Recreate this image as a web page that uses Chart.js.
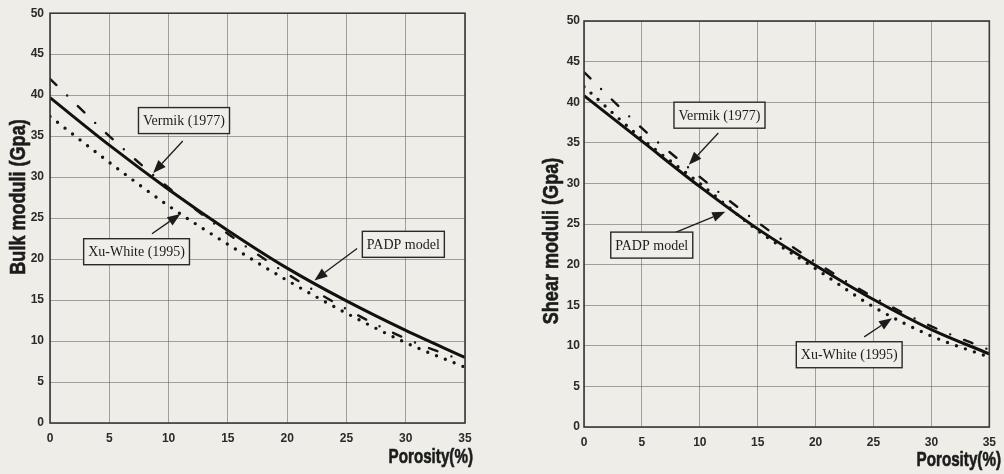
<!DOCTYPE html>
<html>
<head>
<meta charset="utf-8">
<script src="https://cdn.jsdelivr.net/npm/chart.js@4.4.1/dist/chart.umd.min.js"></script>
<style>
  html, body { margin: 0; padding: 0; background: #eeede7; }
  #wrap { position: relative; width: 1004px; height: 474px; overflow: hidden; }
  .panel { position: absolute; top: 0; height: 474px; }
  #pBulk { left: 0; width: 500px; }
  #pShear { left: 500px; width: 504px; }
</style>
</head>
<body>
<div id="wrap">
  <div class="panel" id="pBulk"><canvas id="cBulk"></canvas></div>
  <div class="panel" id="pShear"><canvas id="cShear"></canvas></div>
</div>
<script>
// Porosity (%) sample points shared by every curve
const porosity = [0, 5, 10, 15, 20, 25, 30, 35];
const xTickValues = [0, 5, 10, 15, 20, 25, 30, 35];
const yTickValues = [0, 5, 10, 15, 20, 25, 30, 35, 40, 45, 50];

// Bulk moduli (GPa)
const bulkPADP    = [39.7, 33.9, 28.5, 23.5, 18.9, 14.9, 11.3, 8.0];
const bulkVermik  = [42.0, 35.0, 28.7, 23.1, 18.2, 13.9, 10.3, 7.5];
const bulkXuWhite = [37.4, 31.8, 26.5, 21.8, 17.4, 13.4, 9.8, 6.8];

// Shear moduli (GPa)
const shearPADP    = [40.8, 35.2, 29.6, 24.4, 19.9, 15.7, 12.0, 9.0];
const shearVermik  = [43.7, 36.8, 30.8, 25.2, 20.3, 16.0, 12.4, 9.5];
const shearXuWhite = [41.9, 35.5, 30.0, 24.2, 19.5, 14.8, 11.2, 8.6];

const seriesNames = ['PADP model', 'Vermik (1977)', 'Xu-White (1995)'];

const TICK_FONT = { family: "'Liberation Sans', Arial, sans-serif", size: 12, weight: 'bold' };
const TITLE_FAMILY = "'Liberation Sans', Arial, sans-serif";
const NOTE_FONT = "14px 'Liberation Serif', 'Times New Roman', serif";
const INK = '#1c1c1c';

function points(vals) {
  return porosity.map((p, i) => ({ x: p, y: vals[i] }));
}

// Heavy, horizontally condensed title text
function condensedText(ctx, text, x, y, size, squeeze, align, rotate) {
  ctx.save();
  ctx.translate(x, y);
  if (rotate) ctx.rotate(-Math.PI / 2);
  ctx.scale(squeeze, 1);
  ctx.font = 'bold ' + size + 'px ' + TITLE_FAMILY;
  ctx.textAlign = align;
  ctx.textBaseline = 'middle';
  ctx.fillStyle = INK;
  ctx.fillText(text, 0, 0);
  ctx.lineWidth = 0.6;
  ctx.strokeStyle = INK;
  ctx.strokeText(text, 0, 0);
  ctx.restore();
}

// Frame, axis titles and the labelled arrows pointing at each curve
function makeDecor(cfg) {
  return {
    id: 'decor',
    afterDraw(chart) {
      const { ctx, chartArea: a, scales: { x, y } } = chart;
      ctx.save();
      ctx.strokeStyle = '#3a3a3a';
      ctx.lineWidth = 1.6;
      ctx.strokeRect(a.left, a.top, a.right - a.left, a.bottom - a.top);

      condensedText(ctx, cfg.yTitle.text, cfg.yTitle.x, cfg.yTitle.y, 22, 0.82, 'center', true);
      condensedText(ctx, cfg.xTitle.text, cfg.xTitle.x, cfg.xTitle.y, 20, 0.76, 'right', false);

      cfg.notes.forEach(n => {
        const tx = x.getPixelForValue(n.tail[0]), ty = y.getPixelForValue(n.tail[1]);
        const hx = x.getPixelForValue(n.head[0]), hy = y.getPixelForValue(n.head[1]);
        const ang = Math.atan2(hy - ty, hx - tx);
        const L = 13, W = 5;
        const bx = hx - L * Math.cos(ang), by = hy - L * Math.sin(ang);
        ctx.strokeStyle = INK;
        ctx.lineWidth = 1.3;
        ctx.beginPath();
        ctx.moveTo(tx, ty);
        ctx.lineTo(bx, by);
        ctx.stroke();
        ctx.fillStyle = INK;
        ctx.beginPath();
        ctx.moveTo(hx, hy);
        ctx.lineTo(bx + W * Math.sin(ang), by - W * Math.cos(ang));
        ctx.lineTo(bx - W * Math.sin(ang), by + W * Math.cos(ang));
        ctx.closePath();
        ctx.fill();

        const cx = x.getPixelForValue(n.at[0]), cy = y.getPixelForValue(n.at[1]);
        ctx.font = NOTE_FONT;
        const w = ctx.measureText(n.text).width + 9, h = 26;
        ctx.fillStyle = '#efeee8';
        ctx.fillRect(cx - w / 2, cy - h / 2, w, h);
        ctx.strokeStyle = '#2a2a2a';
        ctx.lineWidth = 1.4;
        ctx.strokeRect(cx - w / 2, cy - h / 2, w, h);
        ctx.fillStyle = INK;
        ctx.textAlign = 'center';
        ctx.textBaseline = 'middle';
        ctx.fillText(n.text, cx, cy + 1);
      });
      ctx.restore();
    }
  };
}

function makeChart(canvasId, series, frame, decor) {
  const grid = { color: 'rgba(95,95,95,0.55)', lineWidth: 1, drawTicks: false };
  return new Chart(document.getElementById(canvasId), {
    type: 'line',
    data: {
      datasets: [
        { label: seriesNames[2], data: points(series[2]), borderColor: '#151515', borderWidth: 3.4,
          borderDash: [0, 9.5], borderCapStyle: 'round' },
        { label: seriesNames[1], data: points(series[1]), borderColor: '#151515', borderWidth: 2.4,
          borderDash: [9, 15, 0, 15], borderCapStyle: 'round' },
        { label: seriesNames[0], data: points(series[0]), borderColor: '#111', borderWidth: 3 }
      ]
    },
    options: {
      responsive: true,
      maintainAspectRatio: false,
      devicePixelRatio: 1,
      animation: false,
      layout: { padding: frame.padding },
      elements: { point: { radius: 0 }, line: { cubicInterpolationMode: 'monotone', fill: false } },
      plugins: { legend: { display: false }, tooltip: { enabled: false } },
      scales: {
        x: {
          type: 'linear', min: 0, max: 35,
          afterBuildTicks: s => { s.ticks = xTickValues.map(v => ({ value: v })); },
          afterFit: s => { s.height = frame.xAxisHeight; },
          ticks: { font: TICK_FONT, color: '#2a2a2a', padding: 8 },
          grid, border: { display: false }
        },
        y: {
          type: 'linear', min: 0, max: 50,
          afterBuildTicks: s => { s.ticks = yTickValues.map(v => ({ value: v })); },
          afterFit: s => { s.width = frame.yAxisWidth; },
          ticks: { font: TICK_FONT, color: '#2a2a2a', padding: frame.yPad },
          grid, border: { display: false }
        }
      }
    },
    plugins: [makeDecor(decor)]
  });
}

makeChart('cBulk', [bulkPADP, bulkVermik, bulkXuWhite],
  { padding: { left: 0, right: 35, top: 12, bottom: 0 }, xAxisHeight: 51, yAxisWidth: 50, yPad: 6 },
  {
    yTitle: { text: 'Bulk moduli (Gpa)', x: 19, y: 197 },
    xTitle: { text: 'Porosity(%)', x: 473, y: 457 },
    notes: [
      { text: seriesNames[1], at: [11.3, 36.9], tail: [11.2, 34.4], head: [8.7, 30.5] },
      { text: seriesNames[2], at: [7.3, 20.9], tail: [8.6, 23.1], head: [11.0, 25.5] },
      { text: seriesNames[0], at: [29.8, 21.8], tail: [25.9, 21.3], head: [22.3, 17.4] }
    ]
  });

makeChart('cShear', [shearPADP, shearVermik, shearXuWhite],
  { padding: { left: 0, right: 10, top: 21, bottom: 0 }, xAxisHeight: 47, yAxisWidth: 84, yPad: 4 },
  {
    yTitle: { text: 'Shear moduli (Gpa)', x: 52, y: 241 },
    xTitle: { text: 'Porosity(%)', x: 501, y: 460 },
    notes: [
      { text: seriesNames[1], at: [11.7, 38.4], tail: [11.6, 36.2], head: [9.05, 32.3] },
      { text: seriesNames[0], at: [5.85, 22.4], tail: [7.8, 23.9], head: [12.2, 26.5] },
      { text: seriesNames[2], at: [22.9, 8.9], tail: [24.2, 11.1], head: [26.6, 13.4] }
    ]
  });
</script>
</body>
</html>
